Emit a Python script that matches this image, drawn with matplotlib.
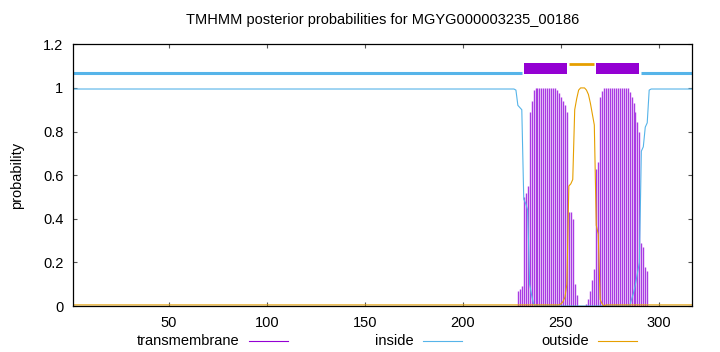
import numpy as np
import matplotlib.pyplot as plt
from matplotlib.lines import Line2D
from matplotlib.patches import Rectangle

plt.rcParams['font.family'] = ['Liberation Sans', 'DejaVu Sans']

# ---- data ----
seq_len = 317
plot_title = "TMHMM posterior probabilities for MGYG000003235_00186"

# transmembrane posterior, residues 228..294 (zero elsewhere)
tm_first = 228
tm_prob = [0.07, 0.08, 0.09, 0.50, 0.52, 0.55, 0.89, 0.94, 0.99,
           1.0, 1.0, 1.0, 1.0, 1.0, 1.0, 1.0, 1.0, 1.0, 1.0, 1.0,
           0.99, 0.975, 0.96, 0.94, 0.92, 0.89, 0.43, 0.43, 0.40, 0.10, 0.05,
           0.0, 0.0, 0.0, 0.0, 0.01, 0.03, 0.07, 0.12, 0.17,
           0.63, 0.66, 0.96, 0.985,
           1.0, 1.0, 1.0, 1.0, 1.0, 1.0, 1.0, 1.0, 1.0, 1.0, 1.0, 1.0, 1.0,
           0.98, 0.96, 0.93, 0.89, 0.845, 0.80, 0.29, 0.27, 0.18, 0.16]

# inside posterior, residues 226..296; flat level outside that window
inside_first = 226
inside_level = 0.995
inside_prob = [0.995, 0.99, 0.92, 0.91, 0.90, 0.49, 0.47, 0.44, 0.10, 0.05, 0.01] \
    + [0.0] * 49 \
    + [0.03, 0.06, 0.10, 0.15, 0.20, 0.71, 0.73, 0.82, 0.84, 0.99, 0.995]

# outside posterior, residues 250..272; tiny level elsewhere
outside_first = 250
outside_level = 0.005
outside_prob = [0.01, 0.02, 0.04, 0.10, 0.55, 0.56, 0.58, 0.90, 0.95, 0.99,
                1.0, 1.0, 1.0, 0.99, 0.97, 0.93, 0.88, 0.83, 0.37, 0.33,
                0.03, 0.01, 0.0]

# predicted topology segments (start, end)
seg_inside = [(1, 230), (291, 317)]
seg_tm = [(231, 253), (268, 290)]
seg_outside = [(254, 267)]

c_tm = "#9400d3"
c_imp = "#a93be3"
c_in = "#56b4e9"
c_out = "#e69f00"

# ---- build per-residue series ----
res = np.arange(1, seq_len + 1)
tm = np.zeros(seq_len)
tm[tm_first - 1:tm_first - 1 + len(tm_prob)] = tm_prob
inside = np.full(seq_len, inside_level)
inside[inside_first - 1:inside_first - 1 + len(inside_prob)] = inside_prob
outside = np.full(seq_len, outside_level)
outside[outside_first - 1:outside_first - 1 + len(outside_prob)] = outside_prob

fig = plt.figure(figsize=(7.2, 3.52), dpi=100)
ax = fig.add_axes([73 / 720, 1 - 306 / 352, (692.3 - 73) / 720, (306 - 44.3) / 352])

ax.vlines(res, 0, tm, color=c_imp, lw=1.0)
ax.plot(res, inside, color=c_in, lw=0.8)
ax.plot(res, outside, color=c_out, lw=0.8)

# topology bar on top
for a, b in seg_inside:
    ax.plot([a, b], [1.07, 1.07], color=c_in, lw=2.2, solid_capstyle="butt")
for a, b in seg_outside:
    ax.plot([a, b], [1.111, 1.111], color=c_out, lw=2.0, solid_capstyle="butt")
for a, b in seg_tm:
    ax.add_patch(Rectangle((a, 1.065), b - a, 0.05, facecolor=c_tm, edgecolor="none"))

ax.set_xlim(1, seq_len)
ax.set_ylim(0, 1.2)
ax.set_xticks([50, 100, 150, 200, 250, 300])
ax.set_yticks([0, 0.2, 0.4, 0.6, 0.8, 1.0, 1.2])
ax.set_yticklabels(["0", "0.2", "0.4", "0.6", "0.8", "1", "1.2"])
ax.tick_params(direction="in", length=3, width=0.8, color="#555555",
               top=True, right=True, labelsize=10.5, pad=7)
for sp in ax.spines.values():
    sp.set_linewidth(0.9)

fig.text(382.5 / 720, 1 - 20 / 352, plot_title, ha="center", va="center", fontsize=10.5)
fig.text(17 / 720, 1 - 175 / 352, "probability", rotation=90, ha="center", va="center", fontsize=10.5)

# legend row under the axis, gnuplot style (text then sample line)
legend_items = [("transmembrane", c_tm, 239.6, 249, 288),
                ("inside", c_in, 413.8, 423, 462),
                ("outside", c_out, 589, 598, 637)]
ly = 1 - 341 / 352
for name, col, tx, x0, x1 in legend_items:
    fig.text(tx / 720, ly, name, ha="right", va="center", fontsize=10.5)
    fig.add_artist(Line2D([x0 / 720, x1 / 720], [ly, ly], color=col, lw=0.8,
                          transform=fig.transFigure))

fig.savefig("out.png", dpi=100)
